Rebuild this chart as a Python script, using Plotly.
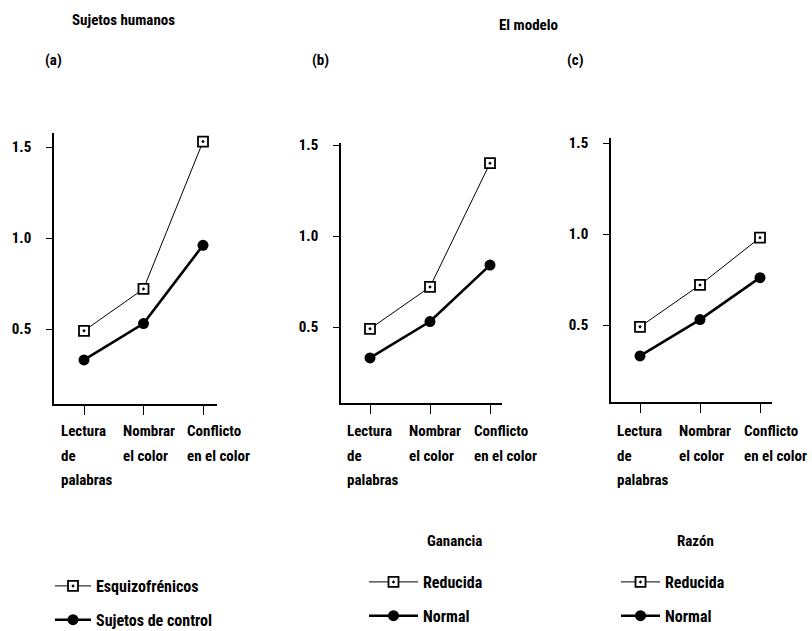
import plotly.graph_objects as go

# ---------------- data ----------------
categories = ["Lectura de palabras", "Nombrar el color", "Conflicto en el color"]
category_lines = [["Lectura", "de", "palabras"], ["Nombrar", "el color"], ["Conflicto", "en el color"]]

a_esquizofrenicos = [0.49, 0.72, 1.53]
a_control = [0.33, 0.53, 0.96]
b_reducida = [0.49, 0.72, 1.40]
b_normal = [0.33, 0.53, 0.84]
c_reducida = [0.49, 0.72, 0.98]
c_normal = [0.33, 0.53, 0.76]

y_ticks = [0.5, 1.0, 1.5]

panel_letters = ["(a)", "(b)", "(c)"]
group_titles = ["Sujetos humanos", "El modelo"]
legend_titles = ["Ganancia", "Razón"]
a_names = ["Esquizofrénicos", "Sujetos de control"]
model_names = ["Reducida", "Normal"]

# ---------------- layout helpers ----------------
W, H = 812, 631
FONT = "Roboto Condensed, Lato, sans-serif"

def px_x(xp):
    return xp / W

def px_y(yp):
    return (H - yp) / H

# pixel geometry per panel (reference pixels)
panels = [
    dict(xl=54, xr=217, t0=84, dt=59.5, yt=133, yb=404, p15=147, p05=329),
    dict(xl=341, xr=502, t0=370, dt=60, yt=143, yb=403, p15=145, p05=327),
    dict(xl=611, xr=772, t0=640, dt=60, yt=138, yb=402, p15=143, p05=325),
]

xpos = list(range(len(categories)))

fig = go.Figure()

series = [
    (a_esquizofrenicos, a_control, a_names, "legend"),
    (b_reducida, b_normal, model_names, "legend2"),
    (c_reducida, c_normal, model_names, "legend3"),
]

for i, (s1, s2, names, leg) in enumerate(series):
    ax = "" if i == 0 else str(i + 1)
    fig.add_trace(go.Scatter(
        x=xpos, y=s1, mode="lines+markers", name=names[0],
        xaxis="x" + ax, yaxis="y" + ax, legend=leg, legendgroup=f"g{i}a",
        line=dict(color="black", width=1),
        marker=dict(symbol="square-dot", size=10, color="white",
                    line=dict(color="black", width=1.8)),
    ))
    fig.add_trace(go.Scatter(
        x=xpos, y=s2, mode="lines+markers", name=names[1],
        xaxis="x" + ax, yaxis="y" + ax, legend=leg, legendgroup=f"g{i}b",
        line=dict(color="black", width=2.6),
        marker=dict(symbol="circle", size=11, color="black"),
    ))

layout = dict(
    width=W, height=H, margin=dict(l=0, r=0, t=0, b=0, autoexpand=False),
    paper_bgcolor="white", plot_bgcolor="white",
    font=dict(family=FONT, size=15, color="black", weight="bold"),
    showlegend=True,
)

annotations = []
for i, p in enumerate(panels):
    ax = "" if i == 0 else str(i + 1)
    ppu = p["p05"] - p["p15"]
    ylo = 0.5 - (p["yb"] - p["p05"]) / ppu
    yhi = 1.5 + (p["p15"] - p["yt"]) / ppu
    xlo = (p["xl"] - p["t0"]) / p["dt"]
    xhi = 2 + (p["xr"] - (p["t0"] + 2 * p["dt"])) / p["dt"]
    layout["xaxis" + ax] = dict(
        domain=[px_x(p["xl"]), px_x(p["xr"])], range=[xlo, xhi],
        anchor="y" + ax, showline=True, linecolor="black", linewidth=1.5,
        ticks="outside", ticklen=9, tickwidth=1.3, tickcolor="black",
        tickvals=xpos, ticktext=["" for _ in xpos],
        showgrid=False, zeroline=False, fixedrange=True,
    )
    layout["yaxis" + ax] = dict(
        domain=[px_y(p["yb"]), px_y(p["yt"])], range=[ylo, yhi],
        anchor="x" + ax, showline=True, linecolor="black", linewidth=1.5,
        ticks="outside", ticklen=6, tickwidth=1.3, tickcolor="black",
        tickvals=y_ticks, tickformat=".1f", ticklabelstandoff=12,
        tickfont=dict(size=15, family=FONT, weight="bold"),
        showgrid=False, zeroline=False, fixedrange=True,
    )
    shifts = [-25, -23, -18]
    line_y = [431, 456, 480]
    for j, lines in enumerate(category_lines):
        for k, txt in enumerate(lines):
            annotations.append(dict(
                x=xpos[j], y=px_y(line_y[k]), xref="x" + ax, yref="paper",
                text=txt, showarrow=False, xanchor="left", yanchor="middle",
                xshift=shifts[j], font=dict(size=15, family=FONT, weight="bold"),
            ))

for txt, (xp, yp), anc, size in [
    (group_titles[0], (70, 20), "left", 15),
    (group_titles[1], (497, 25), "left", 15),
    (panel_letters[0], (43, 60), "left", 15),
    (panel_letters[1], (310, 60), "left", 15),
    (panel_letters[2], (565, 60), "left", 15),
    (legend_titles[0], (455, 541), "center", 15),
    (legend_titles[1], (695, 541), "center", 15),
]:
    annotations.append(dict(x=px_x(xp), y=px_y(yp), xref="paper", yref="paper", text=txt,
                            showarrow=False, xanchor=anc, yanchor="middle",
                            font=dict(size=size, family=FONT, weight="bold")))

layout["annotations"] = annotations

leg_common = dict(xanchor="left", yanchor="top", bgcolor="rgba(0,0,0,0)",
                  traceorder="grouped", tracegroupgap=10,
                  font=dict(size=16, family=FONT, weight="bold"))
layout["legend"] = dict(x=px_x(50), y=px_y(569), itemwidth=36, **leg_common)
layout["legend2"] = dict(x=px_x(364), y=px_y(565), itemwidth=49, **leg_common)
layout["legend3"] = dict(x=px_x(616), y=px_y(565), itemwidth=39, **leg_common)

fig.update_layout(**layout)
fig.write_html(
    "out.html",
    config={"displayModeBar": False},
    post_script="document.body.style.margin='0';document.body.style.overflow='hidden';",
)
